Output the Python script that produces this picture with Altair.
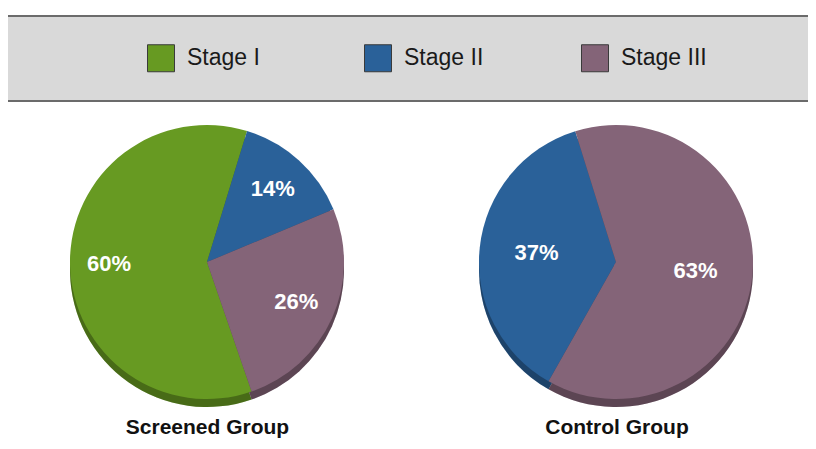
import math
import altair as alt
import pandas as pd

# ---- data ----
groups = ["Screened Group", "Screened Group", "Screened Group", "Control Group", "Control Group"]
stages = ["Stage I", "Stage II", "Stage III", "Stage II", "Stage III"]
values = [60, 14, 26, 37, 63]
labels = ["60%", "14%", "26%", "37%", "63%"]

stage_domain = ["Stage I", "Stage II", "Stage III"]
stage_colors = ["#679a22", "#2a6199", "#846478"]
panel_titles = ["Screened Group", "Control Group"]

df = pd.DataFrame({"group": groups, "stage": stages, "value": values, "label": labels})

W, H = 800, 433
R = 137
FONT = "Liberation Sans"

legend = alt.Legend(
    title=None, orient="none", legendX=139, legendY=36, direction="horizontal",
    symbolType="square", symbolSize=729, symbolStrokeColor="#3a3a3a",
    symbolStrokeWidth=1, symbolOpacity=1, labelFontSize=23, labelFont=FONT,
    labelColor="#1a1a1a", labelOffset=12, columnPadding=89, gridAlign="all",
    labelLimit=0,
)
color = alt.Color("stage:N", scale=alt.Scale(domain=stage_domain, range=stage_colors),
                  legend=legend)
order = alt.Order("stage:N", sort="ascending")

one = alt.Data(values=[{"k": 1}])

band = alt.Chart(one).mark_rect(color="#d9d9d9").encode(
    x=alt.value(0), x2=alt.value(W), y=alt.value(8), y2=alt.value(93))
rule_top = alt.Chart(one).mark_rule(color="#6b6b6b", strokeWidth=2).encode(
    x=alt.value(0), x2=alt.value(W), y=alt.value(8))
rule_bot = alt.Chart(one).mark_rule(color="#6b6b6b", strokeWidth=2).encode(
    x=alt.value(0), x2=alt.value(W), y=alt.value(93))


def pie(group, cx, cy, start_deg, label_r):
    rng = [math.radians(start_deg), math.radians(start_deg + 360)]
    base = alt.Chart(df).transform_filter(alt.datum.group == group)
    theta = alt.Theta("value:Q", stack=True, scale=alt.Scale(range=rng))
    shadow = base.mark_arc(radius=R, stroke=None).encode(
        theta=theta, color=color, order=order, x=alt.value(cx), y=alt.value(cy + 8))
    shade = base.mark_arc(radius=R, color="black", opacity=0.3, stroke=None).encode(
        theta=theta, order=order, x=alt.value(cx), y=alt.value(cy + 8))
    main = base.mark_arc(radius=R, stroke=None).encode(
        theta=theta, color=color, order=order, x=alt.value(cx), y=alt.value(cy))
    text = base.mark_text(radius=label_r, font=FONT, fontSize=22, fontWeight="bold",
                          color="white", baseline="middle", align="center").encode(
        theta=theta, order=order, detail="stage:N", text="label:N",
        x=alt.value(cx), y=alt.value(cy))
    return [shadow, shade, main, text]


title_layers = []
for t, tx in zip(panel_titles, [199.5, 609]):
    title_layers.append(
        alt.Chart(alt.Data(values=[{"t": t}])).mark_text(
            font=FONT, fontSize=21, fontWeight="bold", color="#111111",
            baseline="alphabetic", align="center").encode(
            text="t:N", x=alt.value(tx), y=alt.value(426)))

layers = [band, rule_top, rule_bot]
layers += pie("Screened Group", 199, 254, 161, 98)
layers += pie("Control Group", 608, 254, 209.5, 80)
layers += title_layers

chart = alt.layer(*layers).resolve_scale(theta="independent").properties(
    width=W, height=H, padding=0,
    autosize=alt.AutoSizeParams(type="none"),
    background="white",
).configure_view(stroke=None)

chart.save("out.html", embed_options={"renderer": "svg", "actions": False})
